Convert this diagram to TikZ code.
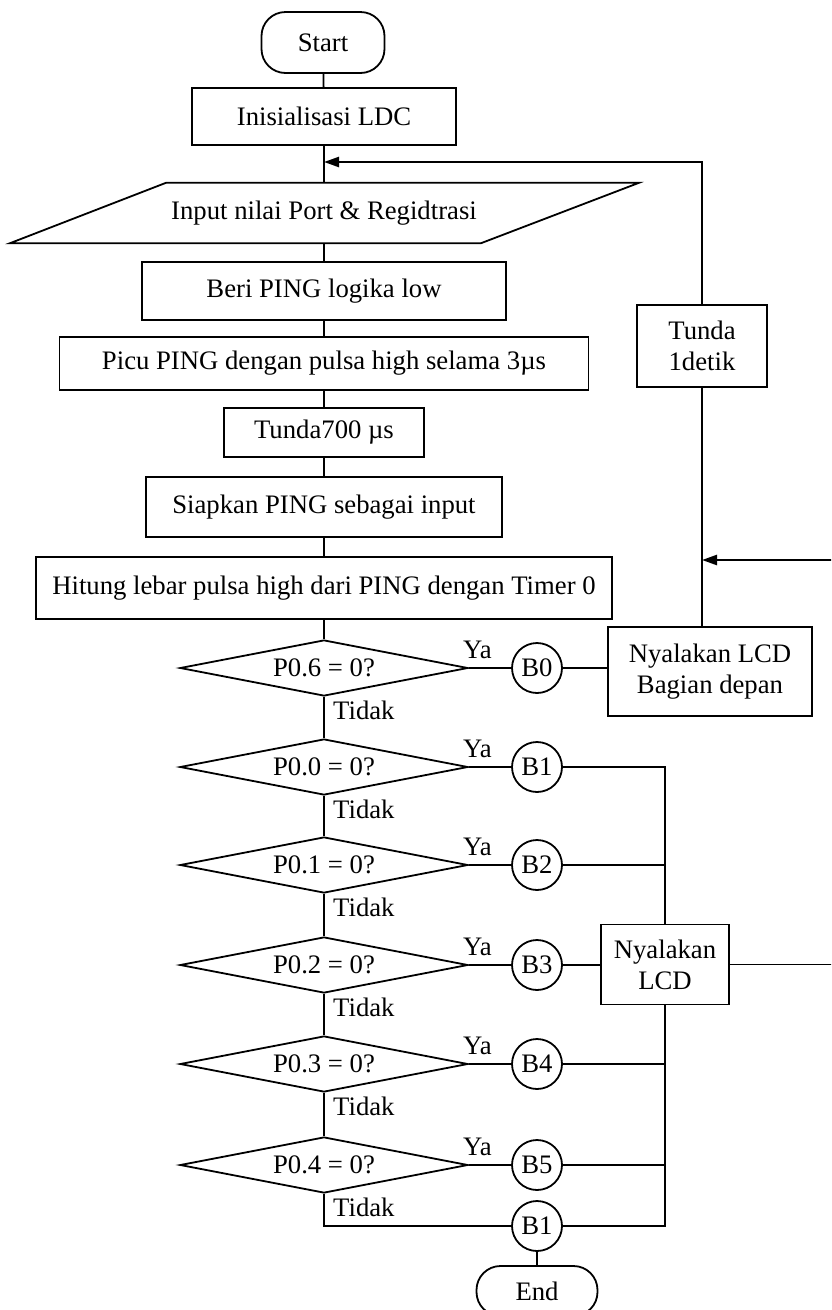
\documentclass[tikz,border=0pt]{standalone}
\usepackage{fontspec}
\setmainfont{Liberation Serif}
\usetikzlibrary{shapes.geometric,arrows.meta,calc}
\tikzset{
  base/.style={font=\fontsize{26.7pt}{31pt}\selectfont},
  flow/.style={line width=1.8pt},
  arr/.style={line width=2.4pt, -{Triangle[length=15pt,width=10pt]}},
  proc/.style={draw, line width=1.8pt, inner sep=0pt, align=center},
  term/.style={draw, line width=1.8pt, rounded corners=24pt, inner sep=0pt, minimum width=123pt, minimum height=61pt},
  dec/.style={draw, line width=1.8pt, diamond, aspect=5, minimum width=288pt, minimum height=56pt, inner sep=0pt},
  conn/.style={draw, line width=1.8pt, circle, minimum size=50pt, inner sep=0pt},
  lbl/.style={inner sep=0pt, anchor=base west},
}
\begin{document}
\begin{tikzpicture}[x=1pt, y=-1pt, base]
\useasboundingbox (0,0) rectangle (831,1310);
\clip (0,0) rectangle (831,1310);
% main column
\node[term] (start) at (323,42.5) {Start};
\node[proc, minimum width=264pt, minimum height=57pt] (init) at (324,116.5) {Inisialisasi LDC};
\node[inner sep=0pt, minimum width=470pt, minimum height=60pt] (inp) at (324,213) {Input nilai Port \& Regidtrasi};
\draw[flow] ($(inp.north)+(-158,0)$) -- ($(inp.north)+(315,0)$) -- ($(inp.south)+(157,0)$) -- ($(inp.south)+(-314,0)$) -- cycle;
\node[proc, minimum width=364pt, minimum height=58pt] (beri) at (324,291) {Beri PING logika low};
\node[proc, minimum width=529pt, minimum height=53pt] (picu) at (324,363.5) {Picu PING dengan pulsa high selama 3µs};
\node[proc, minimum width=200pt, minimum height=49pt] (t700) at (324,432.5) {Tunda700 µs};
\node[proc, minimum width=356pt, minimum height=60pt] (siap) at (324,507) {Siapkan PING sebagai input};
\node[proc, minimum width=576pt, minimum height=62pt] (hit) at (324,588) {Hitung lebar pulsa high dari PING dengan Timer 0};
% decisions
\node[dec] (d6) at (324,668) {P0.6 = 0?};
\node[dec] (d0) at (324,767) {P0.0 = 0?};
\node[dec] (d1) at (324,865) {P0.1 = 0?};
\node[dec] (d2) at (324,965) {P0.2 = 0?};
\node[dec] (d3) at (324,1064) {P0.3 = 0?};
\node[dec] (d4) at (324,1165) {P0.4 = 0?};
% connectors
\node[conn] (b0) at (537,668) {B0};
\node[conn] (b1) at (537,767) {B1};
\node[conn] (b2) at (537,865) {B2};
\node[conn] (b3) at (537,965) {B3};
\node[conn] (b4) at (537,1064) {B4};
\node[conn] (b5) at (537,1165) {B5};
\node[conn] (bf) at (537,1226) {B1};
\node[term, minimum width=121pt, minimum height=50pt] (end) at (537,1291) {End};
% right side
\node[proc, minimum width=130pt, minimum height=82pt] (tun) at (702,346) {Tunda\\1detik};
\node[proc, minimum width=204pt, minimum height=89pt] (nyd) at (710,671.5) {Nyalakan LCD\\Bagian depan};
\node[proc, minimum width=128pt, minimum height=80pt] (lcd) at (665,964.5) {Nyalakan\\LCD};
% labels
\foreach \n/\y in {d6/668,d0/767,d1/865,d2/965,d3/1064,d4/1165}{
  \node[lbl] (ya\n) at (463,\y-10) {Ya};
  \node[lbl] (td\n) at (333,\y+51) {Tidak};
}
% main flow lines
\draw[flow] (start) -- (init);
\draw[flow] (init) -- (inp);
\draw[flow] (inp) -- (beri);
\draw[flow] (beri) -- (picu);
\draw[flow] (picu) -- (t700);
\draw[flow] (t700) -- (siap);
\draw[flow] (siap) -- (hit);
\draw[flow] (hit) -- (d6);
\draw[flow] (d6) -- (d0);
\draw[flow] (d0) -- (d1);
\draw[flow] (d1) -- (d2);
\draw[flow] (d2) -- (d3);
\draw[flow] (d3) -- (d4);
\draw[flow] (d4.south) |- (bf.west);
\draw[flow] (bf) -- (end);
% yes branches
\draw[flow] (d6.east) -- (b0.west);
\draw[flow] (b0.east) -- (b0.east -| nyd.west);
\draw[flow] (d0.east) -- (b1.west);
\draw[flow] (d1.east) -- (b2.west);
\draw[flow] (d2.east) -- (b3.west);
\draw[flow] (d3.east) -- (b4.west);
\draw[flow] (d4.east) -- (b5.west);
\draw[flow] (b1.east) -| (lcd.north);
\draw[flow] (b2.east) -- (b2.east -| lcd.north);
\draw[flow] (b3.east) -- (b3.east -| lcd.west);
\draw[flow] (b4.east) -- (b4.east -| lcd.south);
\draw[flow] (b5.east) -- (b5.east -| lcd.south);
\draw[flow] (bf.east) -| (lcd.south);
% loops
\coordinate (j1) at (324,162);
\coordinate (j2) at (702,560);
\coordinate (rc) at (834,964.5);
\draw[flow] (nyd.north -| tun.south) -- (tun.south);
\draw[arr] (tun.north) |- (j1);
\draw[flow] (lcd.east) -- (rc) -- (rc |- j2);
\draw[arr] (rc |- j2) -- (j2);
\end{tikzpicture}
\end{document}
